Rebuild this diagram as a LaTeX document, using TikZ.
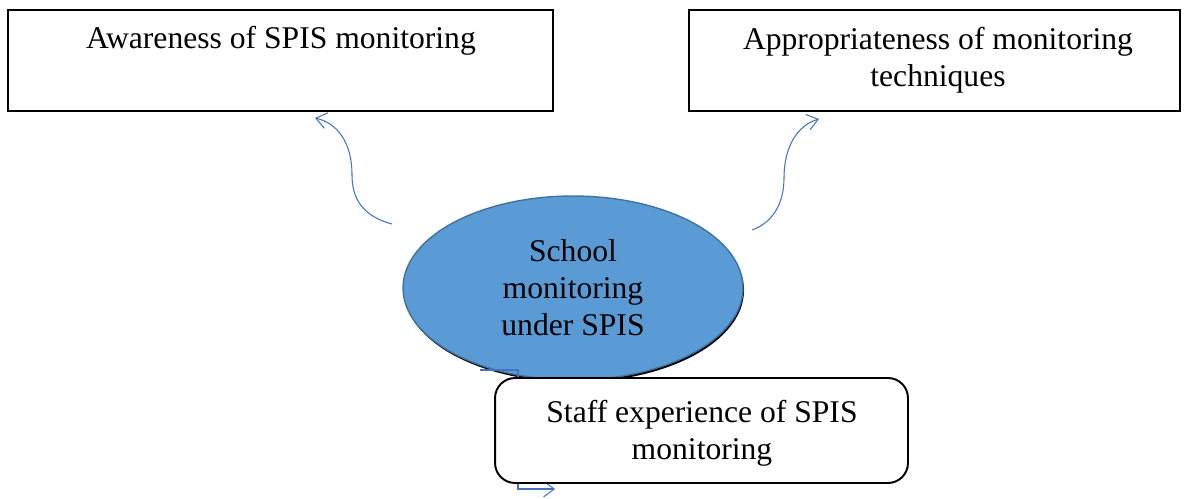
\documentclass[tikz,border=0pt]{standalone}
\usepackage{fontspec}
\setmainfont{Liberation Serif}
\usetikzlibrary{arrows.meta,shapes.geometric,shadows}
\definecolor{linkblue}{HTML}{4472C4}
\definecolor{hubfill}{HTML}{5B9BD5}
\definecolor{hubedge}{HTML}{41719C}

\begin{document}
\begin{tikzpicture}[x=0.02cm, y=-0.02cm, font=\fontsize{18}{21}\selectfont,
  factor/.style={draw, line width=1.1pt, fill=white, inner sep=0pt},
  roundfactor/.style={factor, rounded corners=0.4cm},
  factortext/.style={align=center, inner sep=0pt},
  hub/.style={ellipse, draw=hubedge, line width=0.8pt, fill=hubfill, inner sep=0pt, minimum width=6.8cm, minimum height=3.68cm, align=center, drop shadow={shadow xshift=0.6pt, shadow yshift=-1.3pt, fill=black, opacity=1}},
  link/.style={draw=linkblue, line width=0.6pt, -{Straight Barb[length=6pt,width=9pt]}}]
  \useasboundingbox (0,0) rectangle (1189,499);

  \node[hub] (hub) at (573,288) {School\\monitoring\\under SPIS};

  \coordinate (hubleft) at (392,224);
  \coordinate (awaretip) at (315,118);
  \coordinate (hubright) at (752,230);
  \coordinate (techtip) at (819,119);
  \coordinate (hubbottom) at (480,370);
  \coordinate (stafftip) at (555,489);

  \draw[link] (hubleft) .. controls (362,216) and (352,198) .. (352,175) .. controls (352,142) and (337,123) .. (awaretip);
  \draw[link] (hubright) .. controls (774,222) and (784,202) .. (784,178) .. controls (784,146) and (798,125) .. (techtip);
  \draw[link] (hubbottom) -| (518,489) -- (stafftip);

  \node[factor, minimum width=10.9cm, minimum height=2.02cm] (aware) at (280.5,60.5) {};
  \node[factor, minimum width=9.82cm, minimum height=2.02cm] (tech) at (934.5,60.5) {};
  \node[roundfactor, minimum width=8.26cm, minimum height=2.1cm] (staff) at (701.5,430.5) {};

  \node[factortext] (awaretext) at (281,41) {Awareness of SPIS monitoring};
  \node[factortext] (techtext) at (938,60) {Appropriateness of monitoring\\techniques};
  \node[factortext] (stafftext) at (702,433) {Staff experience of SPIS\\monitoring};
\end{tikzpicture}
\end{document}
